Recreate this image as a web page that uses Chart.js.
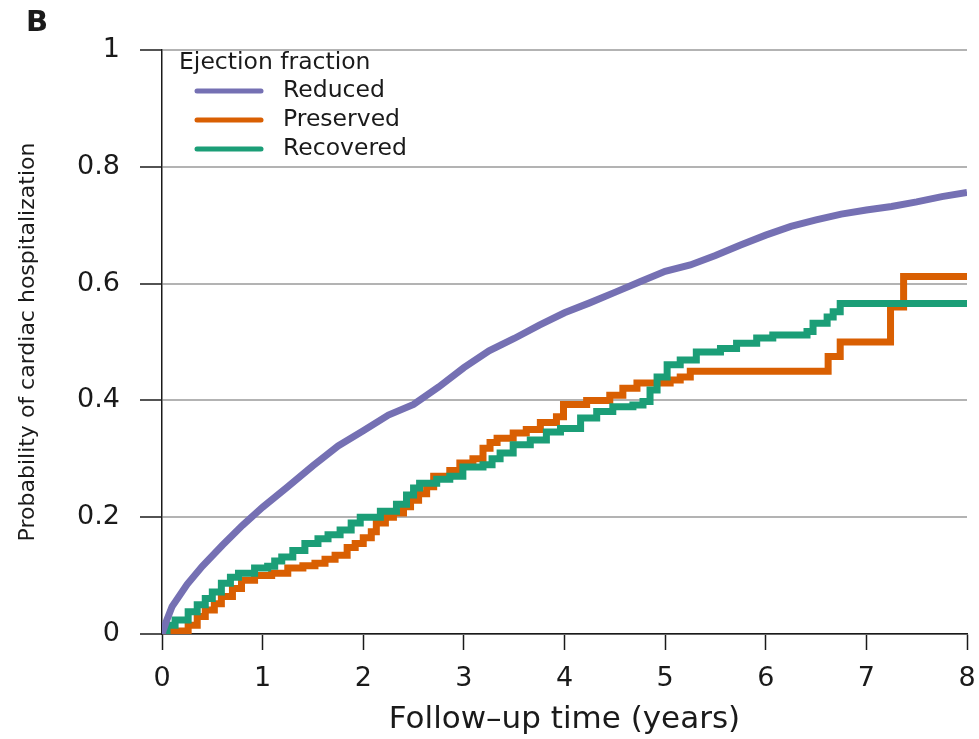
<!DOCTYPE html>
<html>
<head>
<meta charset="utf-8">
<title>Cardiac hospitalization by ejection fraction</title>
<script src="https://cdn.jsdelivr.net/npm/chart.js@4.4.1/dist/chart.umd.min.js"></script>
<style>
  html, body { margin: 0; padding: 0; background: #fff; overflow: hidden; }
  #kmChart { display: block; }
</style>
</head>
<body>
<canvas id="kmChart" width="979" height="739"></canvas>
<script>
// Series names and colours
const seriesNames = ["Reduced", "Preserved", "Recovered"];
const seriesColors = ["#7570B3", "#D95F02", "#1B9E77"];
const legendTitle = "Ejection fraction";

// Reduced EF - cumulative probability
const reducedTime = [0, 0.05, 0.1, 0.25, 0.4, 0.6, 0.8, 1, 1.25, 1.5, 1.75, 2, 2.25, 2.5, 2.75, 3, 3.25, 3.5, 3.75, 4, 4.25, 4.5, 4.75, 5, 5.25, 5.5, 5.75, 6, 6.25, 6.5, 6.75, 7, 7.25, 7.5, 7.75, 8];
const reducedProb = [0, 0.025, 0.047, 0.085, 0.116, 0.152, 0.186, 0.217, 0.252, 0.288, 0.322, 0.348, 0.375, 0.393, 0.423, 0.456, 0.485, 0.506, 0.529, 0.55, 0.567, 0.585, 0.603, 0.621, 0.632, 0.648, 0.666, 0.683, 0.698, 0.709, 0.719, 0.726, 0.732, 0.74, 0.749, 0.756];

// Preserved EF - step curve
const preservedTime = [0, 0.1, 0.26, 0.35, 0.43, 0.52, 0.59, 0.7, 0.79, 0.92, 1.09, 1.25, 1.4, 1.52, 1.62, 1.72, 1.84, 1.92, 2.0, 2.08, 2.13, 2.22, 2.3, 2.4, 2.47, 2.55, 2.63, 2.7, 2.86, 2.96, 3.09, 3.19, 3.26, 3.33, 3.49, 3.62, 3.76, 3.92, 3.99, 4.22, 4.45, 4.58, 4.72, 5.05, 5.15, 5.25, 6.62, 6.74, 7.24, 7.37, 8];
const preservedProb = [0, 0.005, 0.015, 0.03, 0.041, 0.052, 0.064, 0.078, 0.092, 0.1, 0.104, 0.113, 0.117, 0.121, 0.128, 0.135, 0.148, 0.155, 0.165, 0.175, 0.19, 0.2, 0.207, 0.218, 0.229, 0.24, 0.252, 0.27, 0.28, 0.293, 0.3, 0.318, 0.328, 0.335, 0.344, 0.35, 0.362, 0.372, 0.393, 0.4, 0.409, 0.421, 0.43, 0.435, 0.44, 0.45, 0.475, 0.5, 0.56, 0.612, 0.612];

// Recovered EF - step curve
const recoveredTime = [0, 0.05, 0.13, 0.26, 0.35, 0.43, 0.5, 0.59, 0.68, 0.76, 0.92, 1.05, 1.12, 1.19, 1.3, 1.42, 1.55, 1.65, 1.77, 1.88, 1.97, 2.17, 2.33, 2.43, 2.5, 2.56, 2.73, 2.86, 2.99, 3.19, 3.28, 3.36, 3.49, 3.66, 3.82, 3.96, 4.16, 4.32, 4.48, 4.68, 4.78, 4.85, 4.92, 5.02, 5.15, 5.31, 5.55, 5.71, 5.91, 6.07, 6.41, 6.47, 6.61, 6.67, 6.74, 8];
const recoveredProb = [0, 0.015, 0.024, 0.038, 0.05, 0.061, 0.072, 0.087, 0.097, 0.104, 0.113, 0.116, 0.125, 0.132, 0.143, 0.155, 0.163, 0.17, 0.178, 0.19, 0.2, 0.21, 0.222, 0.238, 0.25, 0.258, 0.265, 0.27, 0.286, 0.29, 0.3, 0.31, 0.324, 0.332, 0.346, 0.352, 0.37, 0.381, 0.389, 0.392, 0.398, 0.418, 0.44, 0.461, 0.469, 0.483, 0.489, 0.498, 0.507, 0.512, 0.518, 0.532, 0.543, 0.552, 0.566, 0.566];

// Axis ticks
const xTicks = [0, 1, 2, 3, 4, 5, 6, 7, 8];
const yTicks = [0, 0.2, 0.4, 0.6, 0.8, 1];

// turn two arrays into {x, y} points
const toPoints = (times, probs) => times.map((t, i) => ({ x: t, y: probs[i] }));

Chart.defaults.font.family = "'DejaVu Sans', sans-serif";
Chart.defaults.color = "#1a1a1a";

// Legend drawn inside the plot + the panel letter
const insideLegend = {
  id: "insideLegend",
  afterDraw(chart) {
    const ctx = chart.ctx;
    const area = chart.chartArea;
    ctx.save();
    ctx.fillStyle = "#1a1a1a";
    ctx.textBaseline = "middle";

    // panel letter
    ctx.font = "bold 29px 'DejaVu Sans'";
    ctx.fillText("B", 26, 23);

    ctx.font = "23.5px 'DejaVu Sans'";
    ctx.fillText(legendTitle, area.left + 17, 63);
    seriesNames.forEach((name, i) => {
      const y = 91 + i * 29;
      ctx.strokeStyle = seriesColors[i];
      ctx.lineWidth = 5;
      ctx.lineCap = "round";
      ctx.beginPath();
      ctx.moveTo(area.left + 35, y);
      ctx.lineTo(area.left + 99, y);
      ctx.stroke();
      ctx.fillText(name, area.left + 121, y);
    });
    ctx.restore();
  },
};

const kmCtx = document.getElementById("kmChart").getContext("2d");
new Chart(kmCtx, {
  type: "line",
  data: {
    datasets: [
      {
        label: seriesNames[0],
        data: toPoints(reducedTime, reducedProb),
        borderColor: seriesColors[0],
        borderWidth: 7,
        pointRadius: 0,
        tension: 0,
        order: 0,
      },
      {
        label: seriesNames[1],
        data: toPoints(preservedTime, preservedProb),
        borderColor: seriesColors[1],
        borderWidth: 7,
        pointRadius: 0,
        stepped: true,
        order: 2,
      },
      {
        label: seriesNames[2],
        data: toPoints(recoveredTime, recoveredProb),
        borderColor: seriesColors[2],
        borderWidth: 7,
        pointRadius: 0,
        stepped: true,
        order: 1,
      },
    ],
  },
  options: {
    responsive: false,
    animation: false,
    layout: { padding: { top: 50, right: 12, left: 0, bottom: 0 } },
    plugins: {
      legend: { display: false },
      tooltip: { enabled: false },
    },
    scales: {
      x: {
        type: "linear",
        min: 0,
        max: 8,
        afterBuildTicks: (scale) => {
          scale.ticks = xTicks.map((v) => ({ value: v }));
        },
        afterFit: (scale) => {
          scale.height = 105;
          // the last label may hang over the right padding
          scale.paddingLeft = 0;
          scale.paddingRight = 0;
        },
        ticks: { font: { size: 27 }, padding: 13, maxRotation: 0 },
        grid: {
          drawOnChartArea: false,
          tickLength: 16,
          tickColor: "#1a1a1a",
          tickWidth: 1.5,
        },
        border: { color: "#1a1a1a", width: 1.5 },
        title: {
          display: true,
          text: "Follow\u2013up time (years)",
          font: { size: 31 },
          padding: { top: 0, bottom: 0 },
        },
      },
      y: {
        min: 0,
        max: 1,
        afterBuildTicks: (scale) => {
          scale.ticks = yTicks.map((v) => ({ value: v }));
        },
        afterFit: (scale) => {
          scale.width = 162;
          scale.paddingTop = 0;
          scale.paddingBottom = 0;
        },
        ticks: {
          font: { size: 27 },
          padding: 20,
          callback: (v) => String(v),
        },
        grid: {
          color: "#b3b3b3",
          lineWidth: 2,
          tickLength: 22,
          tickColor: "#1a1a1a",
          tickWidth: 1.5,
        },
        border: { color: "#1a1a1a", width: 1.5 },
        title: {
          display: true,
          text: "Probability of cardiac hospitalization",
          font: { size: 22 },
          padding: { top: 15, bottom: 0 },
        },
      },
    },
  },
  plugins: [insideLegend],
});
</script>
</body>
</html>
